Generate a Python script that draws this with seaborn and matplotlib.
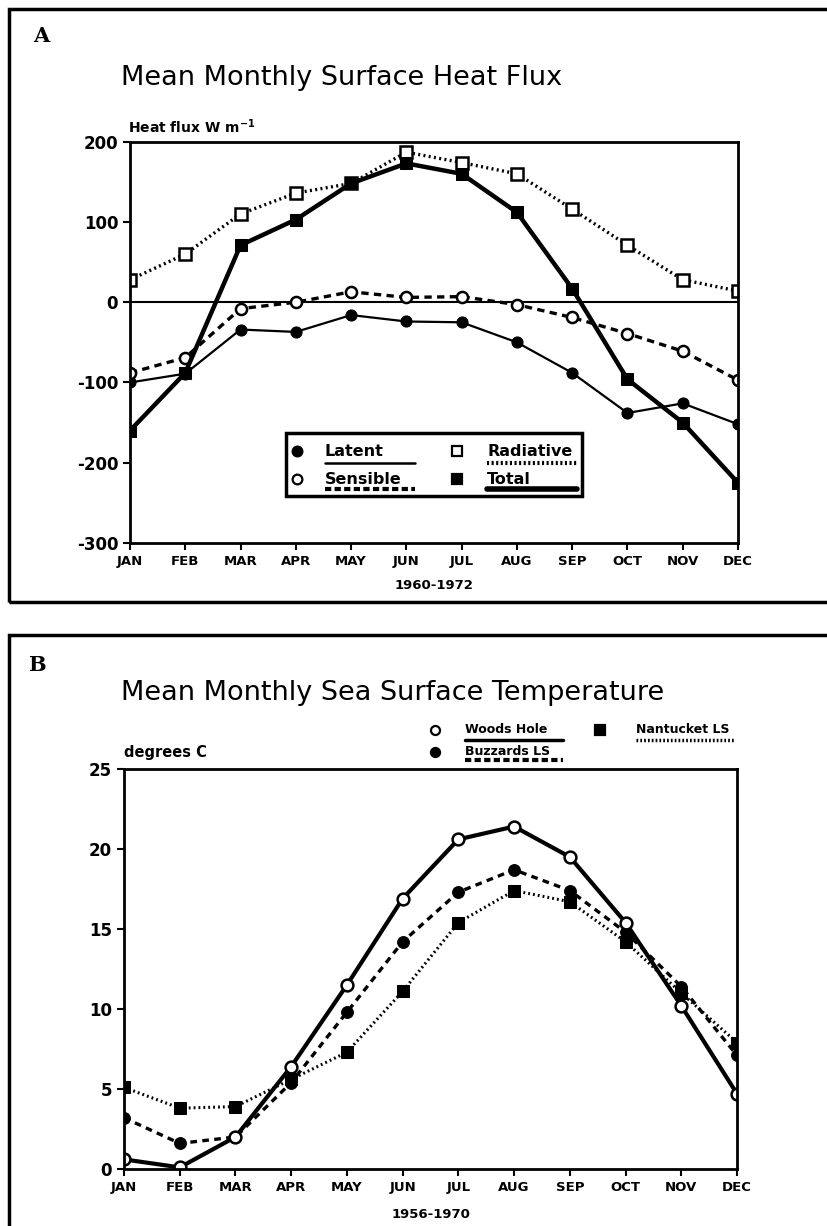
# Mean monthly surface heat flux and sea surface temperature (two panels)
import seaborn as sns
import matplotlib.pyplot as plt
from matplotlib.lines import Line2D
from matplotlib.patches import Rectangle
import pandas as pd

# data
months = ["JAN", "FEB", "MAR", "APR", "MAY", "JUN", "JUL", "AUG", "SEP", "OCT", "NOV", "DEC"]

latent = [-100, -89, -34, -37, -16, -24, -25, -50, -88, -138, -126, -152]
sensible = [-88, -69, -8, 0, 13, 6, 7, -3, -19, -39, -61, -97]
radiative = [28, 60, 110, 136, 148, 187, 174, 160, 116, 71, 28, 14]
total = [-160, -88, 71, 103, 148, 173, 160, 112, 17, -96, -150, -225]

woods_hole = [0.6, 0.1, 2.0, 6.4, 11.5, 16.9, 20.6, 21.4, 19.5, 15.4, 10.2, 4.7]
buzzards_ls = [3.2, 1.6, 2.0, 5.4, 9.8, 14.2, 17.3, 18.7, 17.4, 14.8, 11.4, 7.1]
nantucket_ls = [5.1, 3.8, 3.9, 5.6, 7.3, 11.1, 15.4, 17.4, 16.7, 14.2, 11.0, 7.9]

flux_ticks = [-300, -200, -100, 0, 100, 200]
sst_ticks = [0, 5, 10, 15, 20, 25]

sns.set_style("ticks")
plt.rcParams["font.family"] = ["DejaVu Sans"]
plt.rcParams["axes.unicode_minus"] = False
for key in ["text.color", "axes.labelcolor", "xtick.color", "ytick.color", "axes.edgecolor"]:
    plt.rcParams[key] = "black"

fig = plt.figure(figsize=(8.28, 12.26), dpi=100)

# panel frames
fig.patches.append(Rectangle((0.011, 0.509), 1.1, 0.484, transform=fig.transFigure,
                             fill=False, lw=2.5, ec="black"))
fig.patches.append(Rectangle((0.011, -0.1), 1.1, 0.582, transform=fig.transFigure,
                             fill=False, lw=2.5, ec="black"))

x = list(range(12))

# ---------- Panel A ----------
ax1 = fig.add_axes([0.1570, 0.5571, 0.7343, 0.3273])
flux = pd.DataFrame({"month": x, "Latent": latent, "Sensible": sensible,
                     "Radiative": radiative, "Total": total})

sns.lineplot(data=flux, x="month", y="Latent", ax=ax1, color="black", lw=1.6,
             marker="o", ms=8, mfc="black", mec="black")
sns.lineplot(data=flux, x="month", y="Sensible", ax=ax1, color="black", lw=2.4,
             ls=(0, (2.2, 1.6)), marker="o", ms=8, mfc="white", mec="black", mew=1.8)
sns.lineplot(data=flux, x="month", y="Radiative", ax=ax1, color="black", lw=2.4,
             ls=(0, (0.6, 1.0)), marker="s", ms=9, mfc="white", mec="black", mew=1.8)
sns.lineplot(data=flux, x="month", y="Total", ax=ax1, color="black", lw=3.2,
             marker="s", ms=9, mfc="black", mec="black")

ax1.axhline(0, color="black", lw=1.5, zorder=1)
ax1.set_xlim(0, 11)
ax1.set_ylim(-300, 200)
ax1.set_yticks(flux_ticks)
ax1.set_xticks(x)
ax1.set_xticklabels(months)
ax1.set_xlabel("1960-1972", fontsize=9.5, fontweight="bold", labelpad=8)
ax1.set_ylabel("")
ax1.text(-0.003, 1.037, "Heat flux W m$^{\\mathbf{-1}}$", transform=ax1.transAxes,
         fontsize=10, fontweight="bold", va="center")

# legend box drawn like the original (marker, label, line sample under label)
ax1.add_patch(Rectangle((0.2566, 0.117), 0.4868, 0.157, transform=ax1.transAxes,
                        fill=False, lw=2.5, ec="black", zorder=5))
leg_a = [
    ("Latent", 0.2747, 0.3207, 0.229, 0.199, "o", "black", "-", 1.8),
    ("Sensible", 0.2747, 0.3207, 0.159, 0.135, "o", "white", (0, (1.5, 0.8)), 3.0),
    ("Radiative", 0.5378, 0.5872, 0.229, 0.199, "s", "white", (0, (0.5, 0.6)), 3.0),
    ("Total", 0.5378, 0.5872, 0.159, 0.135, "s", "black", "-", 4.0),
]
for name, mx, tx, ty, uy, mk, fc, ls, lw in leg_a:
    ax1.add_line(Line2D([mx], [ty], transform=ax1.transAxes, marker=mk, ms=7,
                        mfc=fc, mec="black", mew=1.6, ls="none", zorder=6))
    ax1.text(tx, ty, name, transform=ax1.transAxes, fontsize=11.5, fontweight="bold",
             va="center", zorder=6)
    ax1.add_line(Line2D([tx, tx + 0.148], [uy, uy], transform=ax1.transAxes,
                        color="black", ls=ls, lw=lw, zorder=6))

# ---------- Panel B ----------
ax2 = fig.add_axes([0.1498, 0.0465, 0.7403, 0.3263])
sst = pd.DataFrame({"month": x, "Woods Hole": woods_hole,
                    "Buzzards LS": buzzards_ls, "Nantucket LS": nantucket_ls})

sns.lineplot(data=sst, x="month", y="Nantucket LS", ax=ax2, color="black", lw=2.2,
             ls=(0, (0.6, 1.0)), marker="s", ms=8.5, mfc="black", mec="black")
sns.lineplot(data=sst, x="month", y="Buzzards LS", ax=ax2, color="black", lw=2.4,
             ls=(0, (2.0, 1.6)), marker="o", ms=8.5, mfc="black", mec="black")
sns.lineplot(data=sst, x="month", y="Woods Hole", ax=ax2, color="black", lw=3.0,
             marker="o", ms=8.5, mfc="white", mec="black", mew=1.8)

ax2.set_xlim(0, 11)
ax2.set_ylim(0, 25)
ax2.set_yticks(sst_ticks)
ax2.set_xticks(x)
ax2.set_xticklabels(months)
ax2.set_xlabel("1956-1970", fontsize=9.5, fontweight="bold", labelpad=10)
ax2.set_ylabel("")
ax2.text(0.0, 1.04, "degrees C", transform=ax2.transAxes, fontsize=10.5,
         fontweight="bold", va="center")

leg_b = [
    ("Woods Hole", 0.5073, 0.5563, 1.0975, 1.0725, "o", "white", "-", 2.5),
    ("Buzzards LS", 0.5073, 0.5563, 1.0425, 1.0225, "o", "black", (0, (1.5, 0.8)), 3.0),
    ("Nantucket LS", 0.7765, 0.8352, 1.0975, 1.0725, "s", "black", (0, (0.5, 0.6)), 2.5),
]
for name, mx, tx, ty, uy, mk, fc, ls, lw in leg_b:
    ax2.add_line(Line2D([mx], [ty], transform=ax2.transAxes, marker=mk, ms=6.5,
                        mfc=fc, mec="black", mew=1.6, ls="none", clip_on=False))
    ax2.text(tx, ty, name, transform=ax2.transAxes, fontsize=9, fontweight="bold",
             va="center")
    ax2.add_line(Line2D([tx, tx + 0.16], [uy, uy], transform=ax2.transAxes,
                        color="black", ls=ls, lw=lw, clip_on=False))

# common styling
for ax in (ax1, ax2):
    for sp in ax.spines.values():
        sp.set_visible(True)
        sp.set_linewidth(2)
        sp.set_color("black")
    ax.tick_params(direction="out", length=5, width=1.5, labelsize=9.5, colors="black")
    ax.tick_params(axis="y", labelsize=12)
    for lab in ax.get_xticklabels() + ax.get_yticklabels():
        lab.set_fontweight("bold")
    if ax.get_legend():
        ax.get_legend().remove()

# titles and panel letters
fig.text(0.146, 0.9364, "Mean Monthly Surface Heat Flux", fontsize=19.5, va="center")
fig.text(0.146, 0.4348, "Mean Monthly Sea Surface Temperature", fontsize=19.5, va="center")
fig.text(0.040, 0.9706, "A", fontsize=15, fontweight="bold", family="DejaVu Serif",
         va="center")
fig.text(0.034, 0.4576, "B", fontsize=15, fontweight="bold", family="DejaVu Serif",
         va="center")

fig.savefig("out.png", dpi=100)
